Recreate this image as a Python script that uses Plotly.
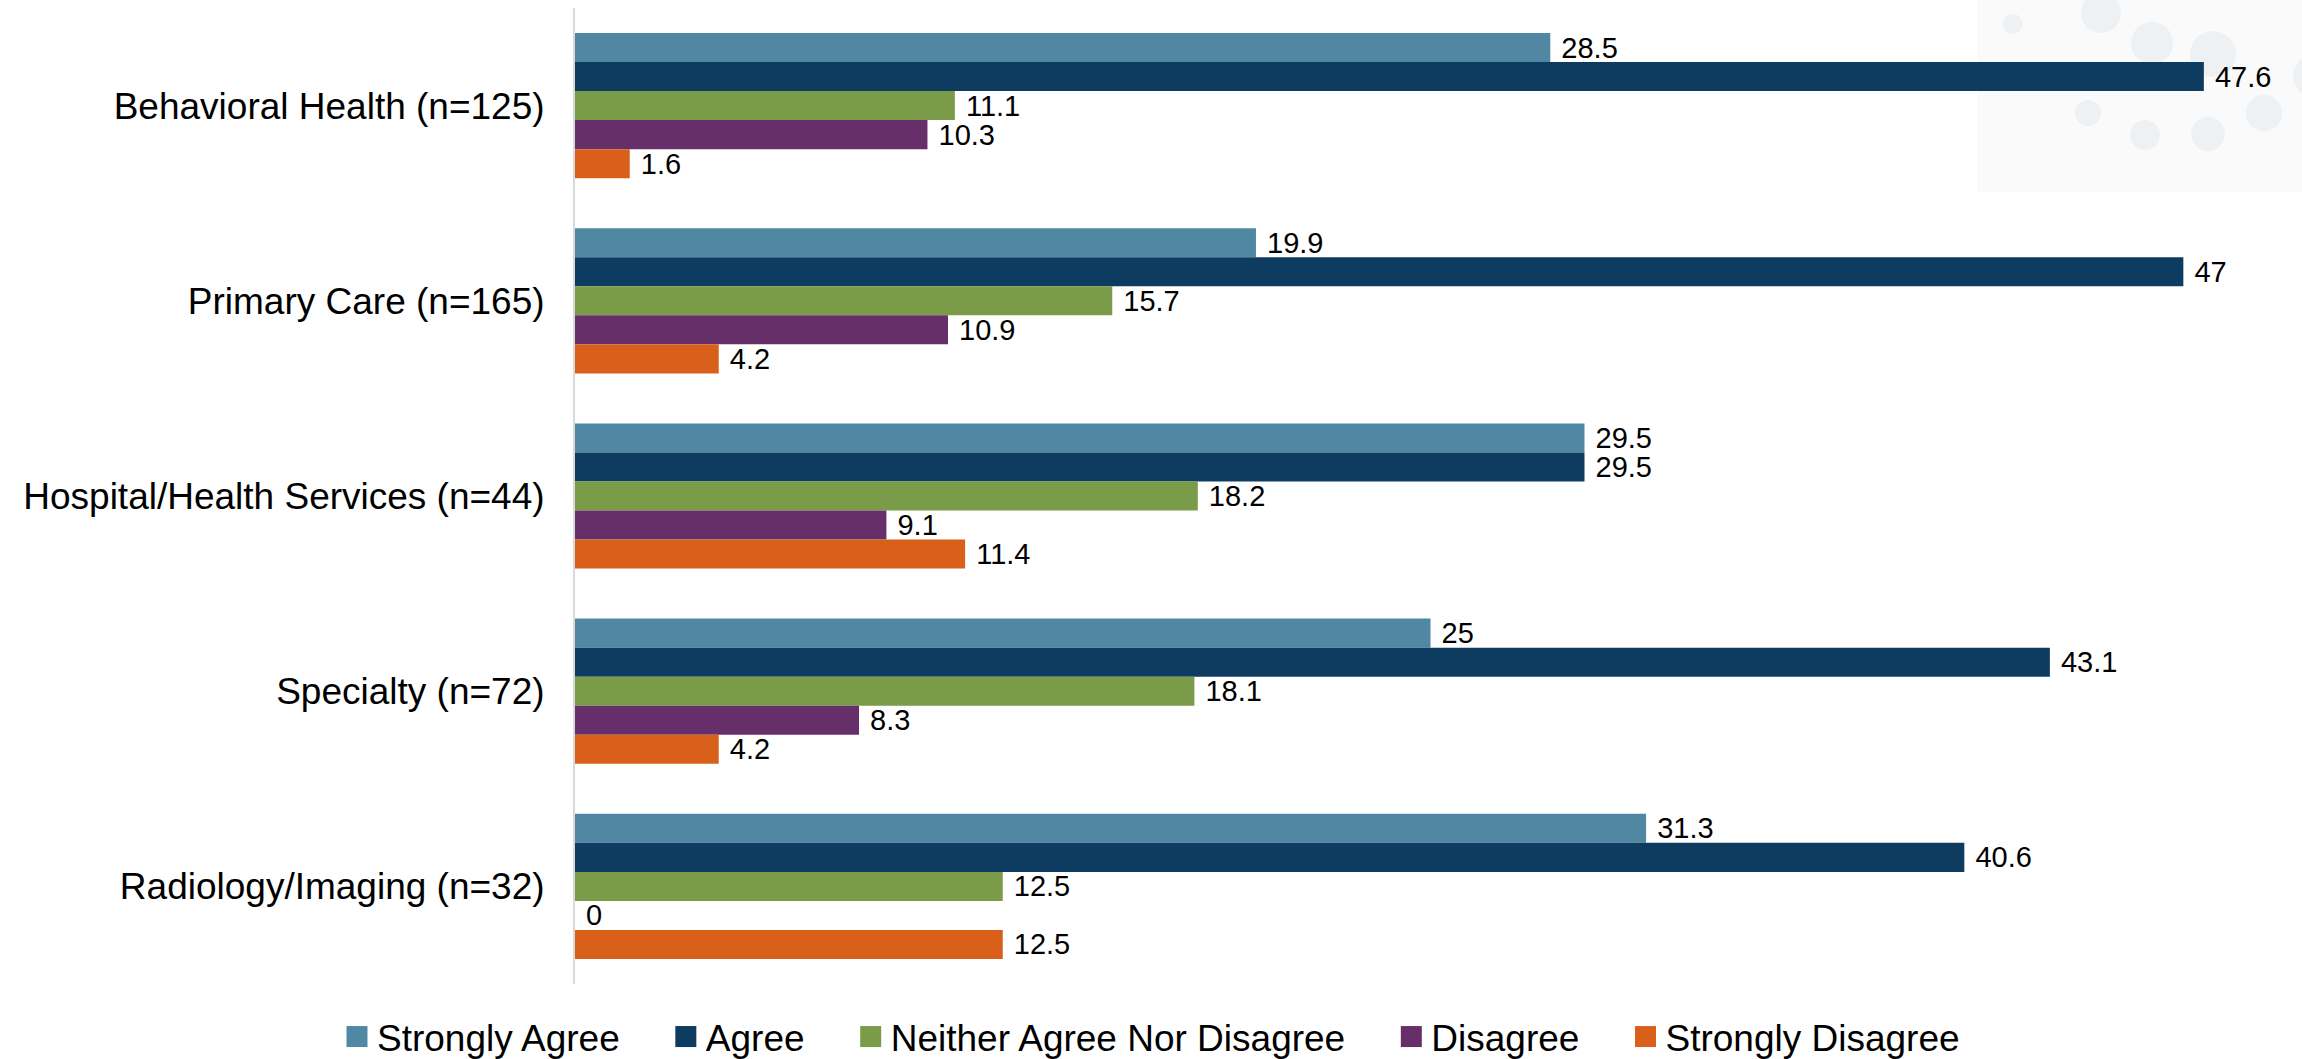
import plotly.graph_objects as go

# Survey responses (%) by practice type
categories = [
    "Behavioral Health (n=125)",
    "Primary Care (n=165)",
    "Hospital/Health Services (n=44)",
    "Specialty (n=72)",
    "Radiology/Imaging (n=32)",
]
strongly_agree = [28.5, 19.9, 29.5, 25, 31.3]
agree = [47.6, 47, 29.5, 43.1, 40.6]
neither = [11.1, 15.7, 18.2, 18.1, 12.5]
disagree = [10.3, 10.9, 9.1, 8.3, 0]
strongly_disagree = [1.6, 4.2, 11.4, 4.2, 12.5]

series_names = ["Strongly Agree", "Agree", "Neither Agree Nor Disagree",
                "Disagree", "Strongly Disagree"]
series_values = [strongly_agree, agree, neither, disagree, strongly_disagree]
series_colors = ["#5088a3", "#0e3c60", "#7a9b48", "#672f6a", "#d9601b"]

W, H = 2302, 1059
M_L, M_R, M_T, M_B = 575, 16, 8, 75
PW, PH = W - M_L - M_R, H - M_T - M_B

FONT = "Liberation Sans, Arial, sans-serif"
NBSP = "\u00a0"

fig = go.Figure()
for i, (name, vals, col) in enumerate(zip(series_names, series_values, series_colors)):
    pad = "" if i == len(series_names) - 1 else NBSP * 4
    fig.add_trace(go.Bar(
        y=categories,
        x=vals,
        name=name + pad,
        orientation="h",
        marker=dict(color=col, line=dict(width=0)),
        texttemplate=NBSP + "%{x}",
        textposition="outside",
        constraintext="none",
        cliponaxis=False,
        textfont=dict(family=FONT, size=29, color="#000000"),
        hoverinfo="skip",
    ))


# decorative dotted panel in the top-right corner (pixel geometry -> paper coords)
def px_x(px):
    return (px - M_L) / PW


def px_y(py):
    return 1 - (py - M_T) / PH


shapes = [dict(type="rect", xref="paper", yref="paper", layer="below",
               x0=px_x(1977), x1=px_x(W + 5), y0=px_y(192), y1=px_y(-5),
               fillcolor="#fafafa", line=dict(width=0))]
dots = [(2013, 24, 10), (2101, 13, 20), (2152, 43, 21), (2213, 54, 23),
        (2313, 76, 20), (2088, 113, 13), (2145, 135, 15), (2208, 134, 17),
        (2264, 113, 18)]
for cx, cy, r in dots:
    shapes.append(dict(type="circle", xref="paper", yref="paper", layer="below",
                       x0=px_x(cx - r), x1=px_x(cx + r),
                       y0=px_y(cy + r), y1=px_y(cy - r),
                       fillcolor="#eef1f4", line=dict(width=0)))

fig.update_layout(
    width=W, height=H,
    margin=dict(l=M_L, r=M_R, t=M_T, b=M_B, pad=0),
    paper_bgcolor="#ffffff",
    plot_bgcolor="rgba(0,0,0,0)",
    barmode="group",
    bargap=0.256,
    bargroupgap=0,
    font=dict(family=FONT, color="#000000"),
    shapes=shapes,
    showlegend=True,
    legend=dict(
        orientation="h",
        xref="container", yref="container",
        x=0.5, xanchor="center",
        y=22 / H, yanchor="middle",
        font=dict(family=FONT, size=37, color="#000000"),
        itemwidth=30,
        traceorder="normal",
        bgcolor="rgba(0,0,0,0)",
    ),
    xaxis=dict(range=[0, 50], showticklabels=False, showgrid=False,
               zeroline=False, showline=False, fixedrange=True),
    yaxis=dict(autorange="reversed", showgrid=False, zeroline=False,
               showline=True, linecolor="#d9d9d9", linewidth=2,
               ticks="", ticklabelstandoff=21,
               tickfont=dict(family=FONT, size=37, color="#000000")),
)

# larger square swatches in the legend
legend_swatches = """
var gd = document.getElementById('{plot_id}');
function growSwatches() {
  gd.querySelectorAll('.legendpoints path').forEach(function (p) {
    p.setAttribute('d', 'M10.5,10.5H-10.5V-10.5H10.5Z');
  });
}
growSwatches();
setTimeout(growSwatches, 0);
setTimeout(growSwatches, 200);
gd.on('plotly_afterplot', growSwatches);
"""

fig.write_html("out.html", post_script=legend_swatches)
